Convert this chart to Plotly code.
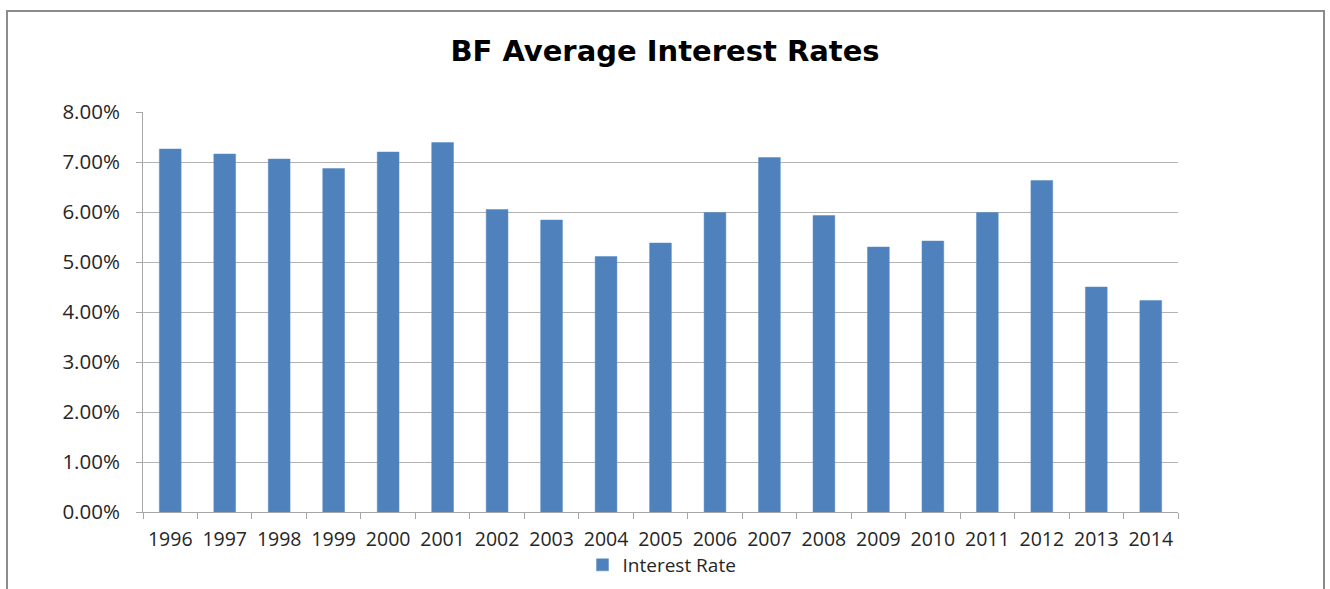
import plotly.graph_objects as go

years = [str(y) for y in range(1996, 2015)]
rates = [0.0726, 0.0716, 0.0706, 0.0687, 0.0720, 0.0739, 0.0605, 0.0584, 0.0511,
         0.0538, 0.0599, 0.0709, 0.0593, 0.0530, 0.0542, 0.0599, 0.0663, 0.0450, 0.0423]
series_name = "Interest Rate"
title_text = "BF Average Interest Rates"

W, H = 1330, 589
L, R, T, B = 143, 1178, 112, 512
pw, ph = R - L, B - T

fig = go.Figure()
fig.add_trace(go.Bar(
    x=years, y=rates, name=series_name,
    marker=dict(color="#4F81BD", line=dict(color="#5B8CC6", width=0.5)),
    showlegend=True,
))

font_fam = "Open Sans"
fs = 19.5
fig.update_layout(
    width=W, height=H,
    margin=dict(l=L, r=W - R, t=T, b=H - B, pad=0, autoexpand=False),
    paper_bgcolor="white", plot_bgcolor="white",
    bargap=0.6,
    font=dict(family=font_fam, size=fs, color="#262626"),
    title=dict(text="<b>" + title_text + "</b>", x=0.5, xref="container", xanchor="center",
               y=1 - 51 / H, yref="container", yanchor="middle",
               font=dict(family="DejaVu Sans", size=29, color="#000000")),
    showlegend=True,
    legend=dict(orientation="h", x=(662 - L) / pw, xanchor="center",
                y=-(565 - B) / ph, yanchor="middle",
                font=dict(family=font_fam, size=19, color="#262626"),
                bgcolor="rgba(0,0,0,0)", itemwidth=30, tracegroupgap=0),
    xaxis=dict(type="category", tickson="boundaries", ticks="outside", ticklen=6,
               tickcolor="#a6a6a6", showline=True, linecolor="#a6a6a6", linewidth=1,
               showgrid=False, ticklabelstandoff=10, tickangle=0, automargin=False,
               tickfont=dict(size=fs, color="#262626")),
    yaxis=dict(range=[0, 0.08], dtick=0.01, tickformat=".2%", ticks="outside", ticklen=6,
               tickcolor="#a6a6a6", showline=True, linecolor="#a6a6a6", linewidth=1,
               showgrid=True, gridcolor="#b3b3b3", gridwidth=1, zeroline=False,
               ticklabelstandoff=12, automargin=False,
               tickfont=dict(size=20.5, color="#262626")),
    shapes=[dict(type="rect", xref="paper", yref="paper",
                 x0=(7 - L) / pw, x1=(1324 - L) / pw,
                 y0=-(620 - B) / ph, y1=1 + (T - 11) / ph,
                 line=dict(color="#8c8c8c", width=2), fillcolor="rgba(0,0,0,0)", layer="below")],
)

fig.write_html("out.html", config={"displayModeBar": False},
               post_script="document.body.style.margin='0';")
